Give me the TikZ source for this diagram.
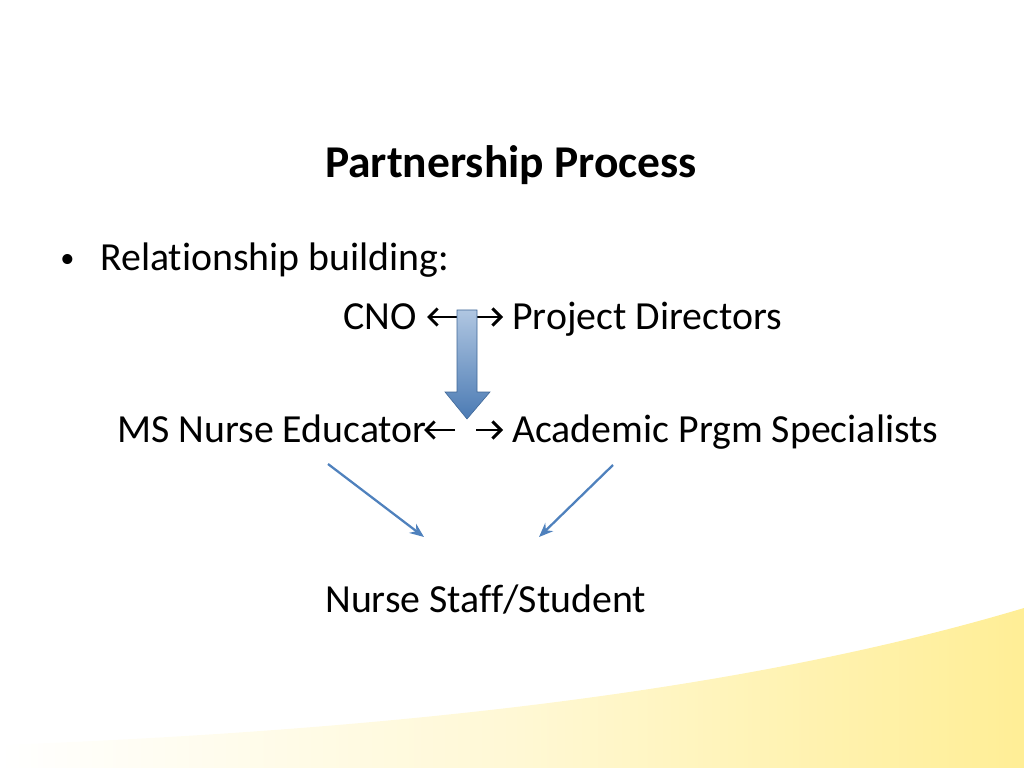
\documentclass[tikz,border=0pt]{standalone}
\usepackage{fontspec}
\setmainfont{Carlito}[Ligatures=NoCommon]
\usetikzlibrary{arrows.meta}
\definecolor{accblue}{RGB}{79,129,189}
\definecolor{wave}{RGB}{255,238,150}
\begin{document}
\begin{tikzpicture}[x=0.703125pt,y=-0.703125pt,
  txt/.style={anchor=base west,inner sep=0pt,font=\fontsize{28}{32}\selectfont},
  thin/.style={draw=accblue,line width=1.6pt,-{Stealth[length=10pt,width=8pt]}},
  glyph/.style={line width=2pt,-{Straight Barb[length=6pt,width=12pt,line width=2pt]}}]
\useasboundingbox (0,0) rectangle (1024,768);
\shade[left color=white,right color=wave,middle color=wave!40] (0,745) .. controls (400,730) and (750,690) .. (1024,608) -- (1024,768) -- (0,768) -- cycle;
\node[anchor=base,inner sep=0pt,font=\fontsize{32}{36}\selectfont\bfseries] (title) at (511,178) {Partnership Process};
\node[txt,font=\fontsize{20}{24}\selectfont] (bul) at (60,268) {•};
\node[txt] (rel) at (100,271) {Relationship building:};
\node[txt] (cno) at (343,329) {CNO};
\coordinate (l1a) at (458,317); \coordinate (l1b) at (427,317);
\coordinate (r1a) at (476,317); \coordinate (r1b) at (503,317);
\draw[glyph] (l1a) -- (l1b);
\draw[glyph] (r1a) -- (r1b);
\node[txt] (pd) at (512,329) {Project Directors};
\node[txt] (ms) at (117,442) {MS Nurse Educator};
\coordinate (l2a) at (455,430); \coordinate (l2b) at (424,430);
\coordinate (r2a) at (476,430); \coordinate (r2b) at (503,430);
\draw[glyph] (l2a) -- (l2b);
\draw[glyph] (r2a) -- (r2b);
\node[txt] (aps) at (512,442) {Academic Prgm Specialists};
\node[txt] (ns) at (325,612) {Nurse Staff/Student};
\shade[top color=accblue!45,bottom color=accblue!95!black,draw=accblue!80!black,line width=0.4pt]
 (457,310) -- (477,310) -- (477,392) -- (490,392) -- (467,419) -- (445,392) -- (457,392) -- cycle;
\coordinate (t1) at (424,537);
\coordinate (t2) at (539,537);
\draw[thin] (328,464) -- (t1);
\draw[thin] (613,465) -- (t2);
\end{tikzpicture}
\end{document}
